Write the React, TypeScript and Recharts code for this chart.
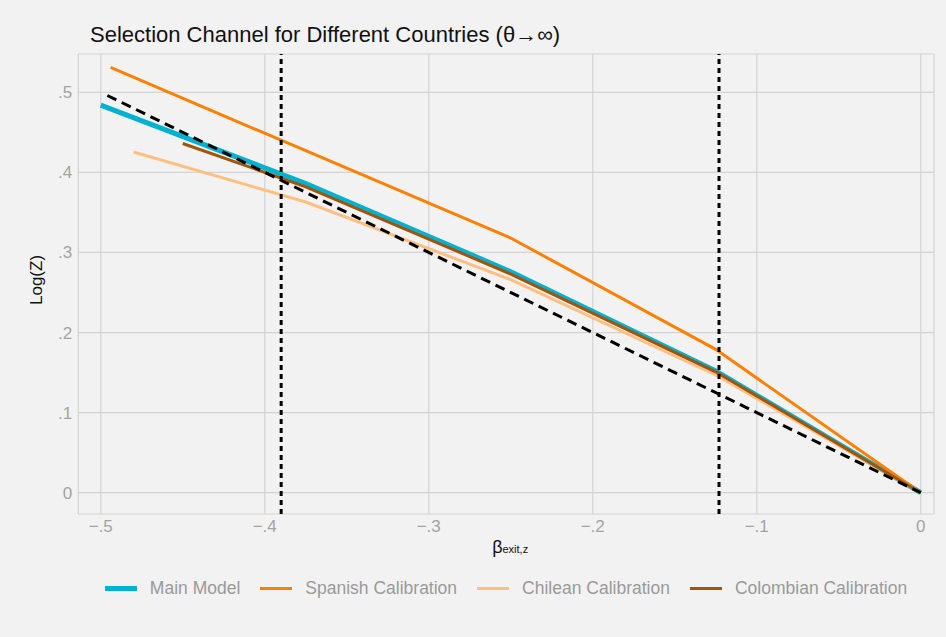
import React from "react";
import {
  LineChart,
  Line,
  XAxis,
  YAxis,
  CartesianGrid,
  ReferenceLine,
  Legend,
} from "recharts";

// beta_exit,z grid (x) and Log(Z) values per calibration
const mainX = [-0.5, -0.375, -0.25, -0.125, 0];
const mainY = [0.484, 0.386, 0.276, 0.152, 0];

const spanishX = [-0.494, -0.375, -0.25, -0.125, 0];
const spanishY = [0.531, 0.427, 0.318, 0.179, 0];

const chileanX = [-0.48, -0.375, -0.25, -0.125, 0];
const chileanY = [0.4255, 0.363, 0.266, 0.147, 0];

const colombianX = [-0.45, -0.375, -0.25, -0.125, 0];
const colombianY = [0.436, 0.382, 0.273, 0.151, 0];

// 45 degree reference (dashed)
const diagX = [-0.496, 0];
const diagY = [0.496, 0];

// vertical dotted markers
const markers = [-0.39, -0.123];

const xTicks = [-0.5, -0.4, -0.3, -0.2, -0.1, 0];
const yTicks = [0, 0.1, 0.2, 0.3, 0.4, 0.5];

const FONT = "'Liberation Sans', Arial, Helvetica, sans-serif";

const series = [
  { name: "Main Model", color: "#00b2cf", width: 5, x: mainX, y: mainY },
  { name: "Spanish Calibration", color: "#ff8000", width: 3, x: spanishX, y: spanishY },
  { name: "Chilean Calibration", color: "#ffbf80", width: 3, x: chileanX, y: chileanY },
  { name: "Colombian Calibration", color: "#a45308", width: 3, x: colombianX, y: colombianY },
];

const toPoints = (xs: number[], ys: number[]) => xs.map((x, i) => ({ x, y: ys[i] }));

const fmtX = (v: number) => (v === 0 ? "0" : "\u2212" + String(Math.abs(Number(v.toFixed(2)))).replace(/^0/, ""));
const fmtY = (v: number) => (v === 0 ? "0" : String(Number(v.toFixed(2))).replace(/^0/, ""));

function LegendRow() {
  return (
    <div
      style={{
        display: "flex",
        justifyContent: "center",
        alignItems: "center",
        fontFamily: FONT,
        fontSize: 17.5,
        color: "#9a9a9a",
        height: 22,
      }}
    >
      {series.map((s, i) => (
        <div key={s.name} style={{ display: "flex", alignItems: "center", marginLeft: i === 0 ? 0 : 20 }}>
          <span style={{ display: "inline-block", width: 32, height: s.width, background: s.color, marginRight: 13 }} />
          <span>{s.name}</span>
        </div>
      ))}
    </div>
  );
}

export default function App() {
  return (
    <div
      style={{
        position: "absolute",
        left: 0,
        top: 0,
        width: 946,
        height: 637,
        background: "#f2f2f2",
        fontFamily: FONT,
      }}
    >
      <div style={{ position: "absolute", left: 90, top: 22, fontSize: 22, color: "#111", whiteSpace: "nowrap" }}>
        Selection Channel for Different Countries (θ→∞)
      </div>
      <LineChart width={946} height={637} margin={{ top: 54, right: 12, bottom: 63, left: 0 }}>
        <CartesianGrid stroke="#d3d3d3" strokeWidth={1.2} />
        <XAxis
          type="number"
          dataKey="x"
          domain={[-0.5137, 0.0081]}
          ticks={xTicks}
          allowDataOverflow
          tickFormatter={fmtX}
          axisLine={false}
          tickLine={false}
          tickSize={0}
          tickMargin={6}
          height={60}
          tick={{ fill: "#a3a3a3", fontSize: 17, fontFamily: FONT }}
          label={{
            content: (props: any) => {
              const vb = props.viewBox || { x: 78, y: 514, width: 856 };
              const cx = vb.x + vb.width / 2 + 4;
              return (
                <text x={cx} y={553} textAnchor="middle" fontFamily={FONT} fill="#111">
                  <tspan fontSize={18}>β</tspan>
                  <tspan fontSize={11}>exit,z</tspan>
                </text>
              );
            },
          }}
        />
        <YAxis
          type="number"
          dataKey="y"
          domain={[-0.0266, 0.5478]}
          ticks={yTicks}
          allowDataOverflow
          tickFormatter={fmtY}
          axisLine={false}
          tickLine={false}
          tickSize={0}
          tickMargin={6}
          width={78.3}
          tick={{ fill: "#a3a3a3", fontSize: 17, fontFamily: FONT }}
          label={{
            content: () => (
              <text
                x={0}
                y={0}
                transform="translate(42 280) rotate(-90)"
                textAnchor="middle"
                fontSize={17}
                fontFamily={FONT}
                fill="#111"
              >
                Log(Z)
              </text>
            ),
          }}
        />
        {series.map((s) => (
          <Line
            key={s.name}
            name={s.name}
            data={toPoints(s.x, s.y)}
            dataKey="y"
            type="linear"
            stroke={s.color}
            strokeWidth={s.width}
            dot={false}
            activeDot={false}
            isAnimationActive={false}
          />
        ))}
        <Line
          name="45 degree"
          legendType="none"
          data={toPoints(diagX, diagY)}
          dataKey="y"
          type="linear"
          stroke="#000"
          strokeWidth={3}
          strokeDasharray="10 6"
          dot={false}
          activeDot={false}
          isAnimationActive={false}
        />
        {markers.map((m) => (
          <ReferenceLine key={m} x={m} stroke="#000" strokeWidth={3} strokeDasharray="5 4" />
        ))}
        <Legend
          layout="horizontal"
          verticalAlign="middle"
          align="center"
          wrapperStyle={{ top: 577, left: 78, width: 856, height: 22 }}
          content={() => <LegendRow />}
        />
      </LineChart>
    </div>
  );
}
